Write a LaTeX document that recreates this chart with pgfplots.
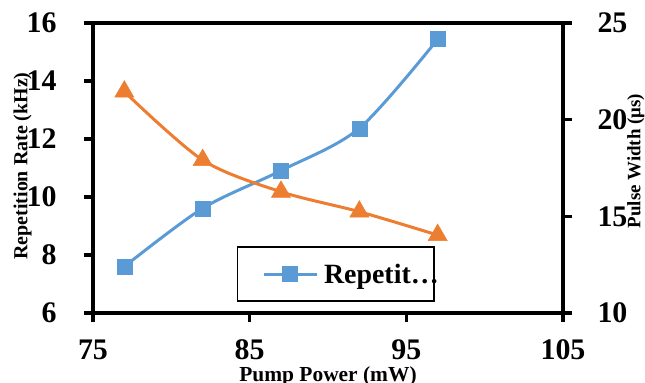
\documentclass[border=0pt]{standalone}
\usepackage{fontspec}
\setmainfont{Liberation Serif}
\usepackage{pgfplots}
\pgfplotsset{compat=1.18}
\definecolor{xblue}{HTML}{5B9BD5}
\definecolor{xorange}{HTML}{ED7D31}
\begin{document}
\begin{tikzpicture}
\pgfplotsset{
 common/.style={
  scale only axis, width=470bp, height=290bp,
  at={(93bp,70bp)}, anchor=south west,
  xmin=75, xmax=105,
  /pgf/number format/assume math mode=true,
  tick label style={font=\fontsize{30}{32}\selectfont\bfseries},
  label style={font=\fontsize{20}{22}\selectfont\bfseries},
  tick align=outside, major tick length=9bp,
  every tick/.style={black, line width=3.5bp},
  axis line style={line width=4bp},
  clip=false,
 }
}
\begin{axis}[common,
  ymin=6, ymax=16, ytick={6,8,...,16}, xtick={75,85,95,105},
  tick pos=left,
  yticklabel style={xshift=-24bp},
  xticklabel style={yshift=-14bp},
  ylabel={Repetition Rate (kHz)},
  ylabel style={at={(rel axis cs:-0.150,0.507)}, anchor=center, rotate=0},
  xlabel={Pump Power (mW)},
  xlabel style={at={(rel axis cs:0.5,-0.2345)}, anchor=base, font=\fontsize{21.5}{23}\selectfont\bfseries},
  legend style={at={(0.306,0.038)}, anchor=south west, draw=black, line width=1.5bp, fill=white,
     inner xsep=0bp, inner ysep=0bp, nodes={inner sep=0bp}, column sep=6bp,
     font=\fontsize{28}{30}\selectfont\bfseries},
  legend image code/.code={
     \path[draw=none,fill=none] (-26bp,-27bp) rectangle (53bp,27bp);
     \draw[#1,mark repeat=2,mark phase=2] plot coordinates {(0bp,0bp)(26.5bp,0bp)(53bp,0bp)};
  },
]
\addplot[xblue, line width=3bp, smooth, mark=square*, mark size=7.5bp, mark options={solid, fill=xblue, line width=0.5bp}]
 coordinates {(77,7.60)(82,9.61)(87,10.91)(92,12.37)(97,15.44)};
\addlegendentry{\makebox[110bp][l]{Repetit…}}
\end{axis}
\begin{axis}[common,
  hide x axis, axis y line*=right,
  ymin=10, ymax=25, ytick={10,15,20,25},
  yticklabel style={xshift=22bp},
  ylabel={Pulse Width (μs)},
  ylabel style={at={(rel axis cs:1.155,0.524)}, anchor=center, rotate=0, font=\fontsize{19}{21}\selectfont\bfseries},
]
\addplot[xorange, line width=3bp, smooth, mark=triangle*, mark size=11bp, mark options={solid, fill=xorange, line width=0.5bp}]
 coordinates {(77,21.45)(82,17.91)(87,16.27)(92,15.24)(97,14.03)};
\end{axis}
\pgfresetboundingbox
\useasboundingbox (0,0) rectangle (645bp,383bp);
\end{tikzpicture}
\end{document}
